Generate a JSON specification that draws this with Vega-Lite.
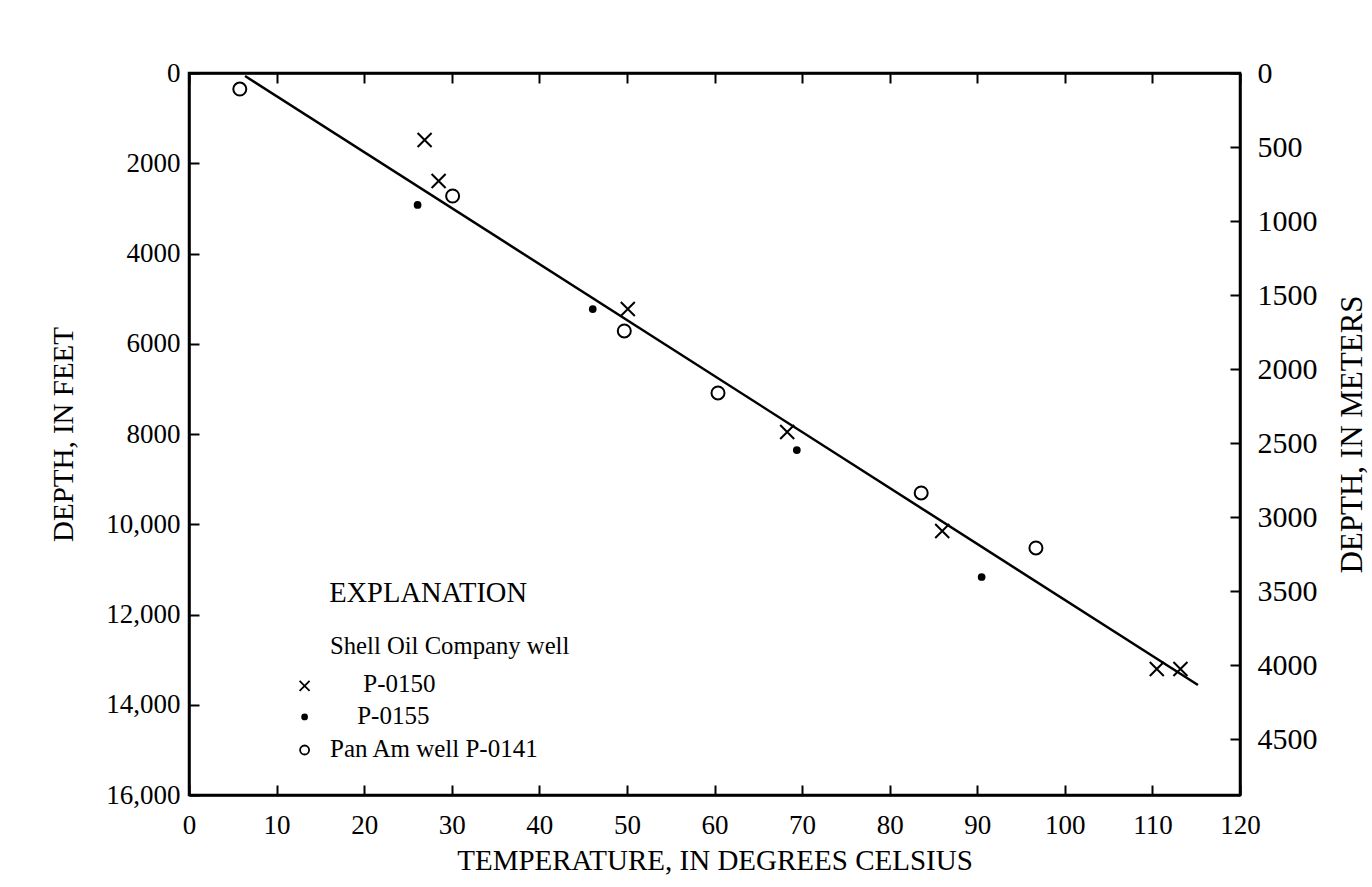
{
  "$schema": "https://vega.github.io/schema/vega-lite/v6.json",
  "width": 1051,
  "height": 722,
  "autosize": {"type": "none"},
  "padding": {"left": 189, "top": 73, "right": 132, "bottom": 92},
  "background": "white",
  "config": {
    "view": {"stroke": "black", "strokeWidth": 2.5},
    "font": "Liberation Serif",
    "axis": {
      "grid": false,
      "domainColor": "black",
      "domainWidth": 2.5,
      "tickColor": "black",
      "tickWidth": 2,
      "labelColor": "black",
      "titleColor": "black",
      "labelFont": "Liberation Serif",
      "titleFont": "Liberation Serif",
      "labelFontSize": 27,
      "titleFontSize": 29,
      "titleFontWeight": "normal",
      "labelFlush": false,
      "labelOverlap": false
    }
  },
  "datasets": {
    "wells": [
      {"well": "P-0150", "temp": 26.9, "depth": 1485},
      {"well": "P-0150", "temp": 28.5, "depth": 2393},
      {"well": "P-0150", "temp": 50.1, "depth": 5230},
      {"well": "P-0150", "temp": 68.3, "depth": 7956},
      {"well": "P-0150", "temp": 86.0, "depth": 10150},
      {"well": "P-0150", "temp": 110.5, "depth": 13208},
      {"well": "P-0150", "temp": 113.2, "depth": 13208},
      {"well": "P-0155", "temp": 26.1, "depth": 2925},
      {"well": "P-0155", "temp": 46.1, "depth": 5230},
      {"well": "P-0155", "temp": 69.4, "depth": 8355},
      {"well": "P-0155", "temp": 90.5, "depth": 11169},
      {"well": "P-0141", "temp": 5.8, "depth": 355},
      {"well": "P-0141", "temp": 30.1, "depth": 2726},
      {"well": "P-0141", "temp": 49.7, "depth": 5717},
      {"well": "P-0141", "temp": 60.4, "depth": 7091},
      {"well": "P-0141", "temp": 83.6, "depth": 9307},
      {"well": "P-0141", "temp": 96.7, "depth": 10526}
    ],
    "fit": [
      {"temp": 6.4, "depth": 66},
      {"temp": 115.2, "depth": 13562}
    ],
    "keys": [
      {"well": "P-0150", "temp": 13.2, "depth": 13584},
      {"well": "P-0155", "temp": 13.2, "depth": 14271},
      {"well": "P-0141", "temp": 13.2, "depth": 15003}
    ],
    "notes": [
      {"kind": "head", "temp": 16.0, "depth": 11524, "text": "EXPLANATION"},
      {"kind": "sub", "temp": 16.1, "depth": 12720, "text": "Shell Oil Company well"},
      {"kind": "entry", "temp": 19.9, "depth": 13540, "text": "P-0150"},
      {"kind": "entry", "temp": 19.2, "depth": 14249, "text": "P-0155"},
      {"kind": "entry", "temp": 16.1, "depth": 14981, "text": "Pan Am well P-0141"}
    ],
    "meters": [
      {"t": 0, "m": 0},
      {"t": 120, "m": 4500}
    ]
  },
  "layer": [
    {
      "encoding": {
        "x": {
          "field": "temp",
          "type": "quantitative",
          "scale": {"domain": [0, 120], "nice": false, "zero": false},
          "axis": {
            "orient": "bottom",
            "values": [0, 10, 20, 30, 40, 50, 60, 70, 80, 90, 100, 110, 120],
            "tickSize": -10,
            "labelPadding": 27,
            "title": "TEMPERATURE, IN DEGREES CELSIUS",
            "titlePadding": 8
          }
        },
        "y": {
          "field": "depth",
          "type": "quantitative",
          "scale": {"domain": [0, 16000], "reverse": true, "nice": false, "zero": false},
          "axis": {
            "orient": "left",
            "values": [0, 2000, 4000, 6000, 8000, 10000, 12000, 14000, 16000],
            "labelExpr": "format(datum.value, datum.value >= 10000 ? ',' : 'd')",
            "tickSize": -10,
            "labelPadding": 19,
            "title": "DEPTH, IN FEET",
            "titlePadding": 27
          }
        }
      },
      "layer": [
        {
          "data": {"name": "fit"},
          "mark": {"type": "line", "color": "black", "strokeWidth": 2.5}
        },
        {
          "data": {"name": "wells"},
          "transform": [{"filter": "datum.well === 'P-0150'"}],
          "mark": {"type": "point", "shape": "M-1,-1L1,1M-1,1L1,-1", "size": 196, "color": "black", "filled": false, "strokeWidth": 2, "opacity": 1}
        },
        {
          "data": {"name": "wells"},
          "transform": [{"filter": "datum.well === 'P-0155'"}],
          "mark": {"type": "point", "shape": "circle", "size": 60, "color": "black", "filled": true, "opacity": 1}
        },
        {
          "data": {"name": "wells"},
          "transform": [{"filter": "datum.well === 'P-0141'"}],
          "mark": {"type": "point", "shape": "circle", "size": 169, "color": "black", "filled": false, "strokeWidth": 2, "opacity": 1}
        },
        {
          "data": {"name": "keys"},
          "transform": [{"filter": "datum.well === 'P-0150'"}],
          "mark": {"type": "point", "shape": "M-1,-1L1,1M-1,1L1,-1", "size": 100, "color": "black", "filled": false, "strokeWidth": 1.8, "opacity": 1}
        },
        {
          "data": {"name": "keys"},
          "transform": [{"filter": "datum.well === 'P-0155'"}],
          "mark": {"type": "point", "shape": "circle", "size": 45, "color": "black", "filled": true, "opacity": 1}
        },
        {
          "data": {"name": "keys"},
          "transform": [{"filter": "datum.well === 'P-0141'"}],
          "mark": {"type": "point", "shape": "circle", "size": 81, "color": "black", "filled": false, "strokeWidth": 1.8, "opacity": 1}
        },
        {
          "data": {"name": "notes"},
          "transform": [{"filter": "datum.kind === 'head'"}],
          "mark": {"type": "text", "align": "left", "baseline": "middle", "font": "Liberation Serif", "fontSize": 28.5, "color": "black"},
          "encoding": {"text": {"field": "text"}}
        },
        {
          "data": {"name": "notes"},
          "transform": [{"filter": "datum.kind === 'sub'"}],
          "mark": {"type": "text", "align": "left", "baseline": "middle", "font": "Liberation Serif", "fontSize": 24.7, "color": "black"},
          "encoding": {"text": {"field": "text"}}
        },
        {
          "data": {"name": "notes"},
          "transform": [{"filter": "datum.kind === 'entry'"}],
          "mark": {"type": "text", "align": "left", "baseline": "middle", "font": "Liberation Serif", "fontSize": 25, "color": "black"},
          "encoding": {"text": {"field": "text"}}
        }
      ]
    },
    {
      "data": {"name": "meters"},
      "mark": {"type": "point", "opacity": 0},
      "encoding": {
        "x": {
          "field": "t",
          "type": "quantitative",
          "scale": {"domain": [0, 120], "nice": false, "zero": false},
          "axis": {
            "orient": "top",
            "values": [0, 10, 20, 30, 40, 50, 60, 70, 80, 90, 100, 110, 120],
            "labels": false,
            "tickSize": -10,
            "title": null
          }
        },
        "y": {
          "field": "m",
          "type": "quantitative",
          "scale": {"domain": [0, 4876.8], "reverse": true, "nice": false, "zero": false},
          "axis": {
            "orient": "right",
            "values": [0, 500, 1000, 1500, 2000, 2500, 3000, 3500, 4000, 4500],
            "labelExpr": "format(datum.value, 'd')",
            "labelFontSize": 30,
            "tickSize": -10,
            "labelPadding": 27,
            "title": "DEPTH, IN METERS",
            "titleFontSize": 31,
            "titleAngle": -90,
            "titleBaseline": "top",
            "titlePadding": 20
          }
        }
      }
    }
  ],
  "resolve": {"scale": {"x": "independent", "y": "independent"}}
}
